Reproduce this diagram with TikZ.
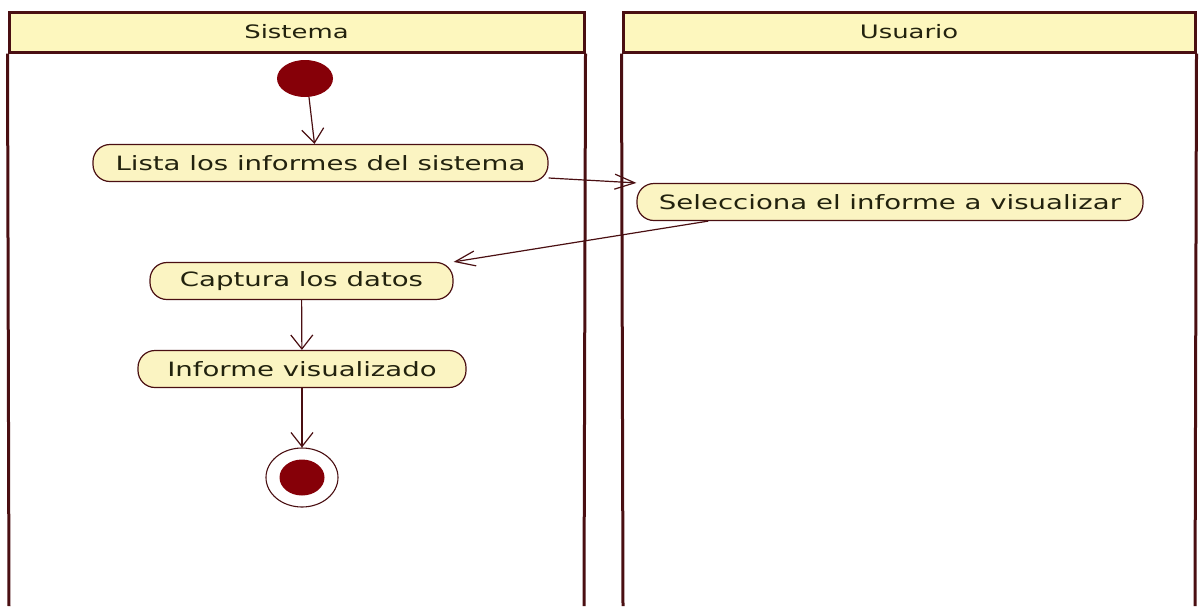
\documentclass[tikz,border=0pt]{standalone}
\usepackage{fontspec}
\setmainfont{DejaVu Sans}
\newfontfamily\umlfont{DejaVu Sans}[FakeStretch=1.4]
\usetikzlibrary{positioning,arrows.meta,shapes.geometric}
\definecolor{linea}{HTML}{4A0F12}
\definecolor{cabeza}{HTML}{FDF7BE}
\definecolor{relleno}{HTML}{FBF4C2}
\definecolor{punto}{HTML}{860008}
\definecolor{texto}{HTML}{22220E}
\tikzstyle{carril} = [draw=linea, line width=3pt]
\tikzstyle{cabecera} = [draw=linea, line width=3pt, fill=cabeza, minimum height=40pt, inner sep=0pt, text=texto, font=\umlfont\fontsize{18.5}{20}\selectfont]
\tikzstyle{actividad} = [rectangle, rounded corners=17pt, draw=linea, line width=1.2pt, fill=relleno, minimum height=37pt, inner sep=0pt, text=texto, font=\umlfont\fontsize{19.7}{22}\selectfont]
\tikzstyle{flujo} = [draw=linea, line width=1.2pt, -{Straight Barb[length=14pt,width=22pt]}]
\tikzstyle{flujoh} = [draw=linea, line width=1.2pt, -{Straight Barb[length=20pt,width=15pt]}]

\begin{document}
\begin{tikzpicture}[x=1pt,y=-1pt]
        \useasboundingbox (0,0) rectangle (1199,606);

        % carriles
        \node[cabecera, minimum width=575pt] (sistema) at (296.5,32) {Sistema};
        \node[cabecera, minimum width=572pt] (usuario) at (909,32) {Usuario};
        \coordinate (s1) at (9,606);
        \coordinate (s2) at (584,606);
        \coordinate (u1) at (623,606);
        \coordinate (u2) at (1195,606);
        \draw[carril] (sistema.south west) -- (s1);
        \draw[carril] (sistema.south east) -- (s2);
        \draw[carril] (usuario.south west) -- (u1);
        \draw[carril] (usuario.south east) -- (u2);

        \node[ellipse, fill=punto, minimum width=56pt, minimum height=37pt, inner sep=0pt] (inicio) at (305,78.5) {};

        \node[actividad, minimum width=455pt] (lista) at (320.5,163) {Lista los informes del sistema};
        \node[actividad, minimum width=506pt] (selecciona) at (890,202) {Selecciona el informe a visualizar};
        \node[actividad, minimum width=303pt] (captura) at (301.5,281) {Captura los datos};
        \node[actividad, minimum width=328pt] (visualizado) at (302,369) {Informe visualizado};

        \node[ellipse, draw=linea, line width=1.1pt, fill=white, minimum width=72pt, minimum height=59pt, inner sep=0pt] (fin) at (302,477.5) {};
        \node[ellipse, fill=punto, minimum width=45pt, minimum height=36pt, inner sep=0pt] (finpunto) at (fin) {};

        \draw[flujo] ([xshift=4pt]inicio.south) -- ([xshift=-6pt]lista.north);
        \draw[flujoh] ([yshift=-15pt]lista.east) -- (selecciona.north west);
        \draw[flujoh] (selecciona.186.8) -- (captura.north east);
        \draw[flujo] (captura) -- (visualizado);
        \draw[flujo] (visualizado) -- (fin);
\end{tikzpicture}
\end{document}
